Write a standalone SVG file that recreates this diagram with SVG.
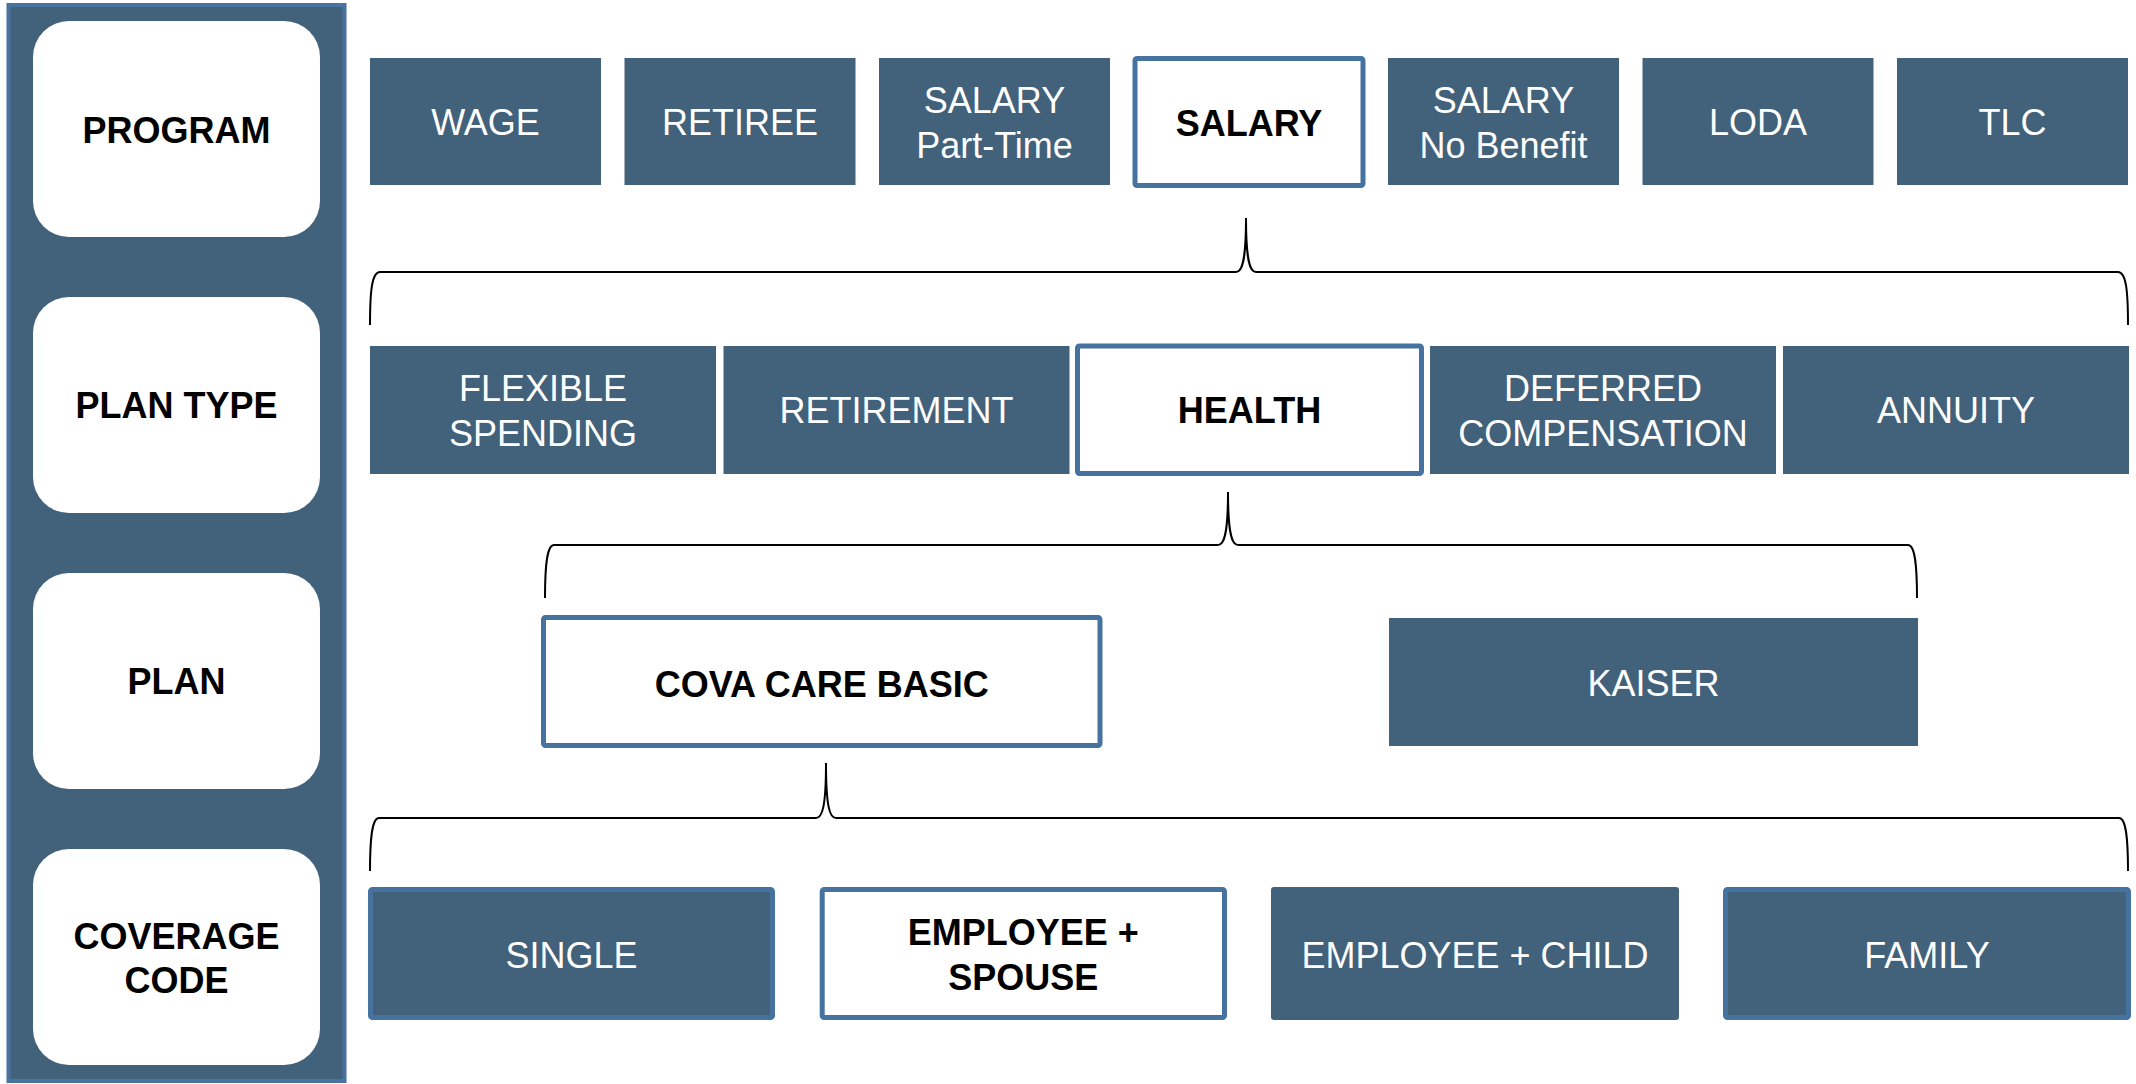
<svg xmlns="http://www.w3.org/2000/svg" width="2136" height="1084" viewBox="0 0 2136 1084">
<style>
.bg{fill:#ffffff}
.panel{fill:#42617a;stroke:#4872a0;stroke-width:4}
.lbl{fill:#ffffff}
.box{fill:#42617a}
.sel{fill:#ffffff;stroke:#4672a0;stroke-width:5}
.dsel{fill:#42617a;stroke:#4672a0;stroke-width:5}
.t{font-family:"Liberation Sans",Arial,sans-serif;font-size:36px;text-anchor:middle}
.w{fill:#ffffff}
.b{fill:#000000;font-weight:bold}
.brace{fill:none;stroke:#000000;stroke-width:2}
</style>
<rect class="bg" x="0" y="0" width="2136" height="1084"/>
<g id="sidebar">
<rect class="panel" x="8.5" y="5" width="336" height="1076"/>
<g id="lbl-program"><rect class="lbl" x="33" y="21" width="287" height="216" rx="36"/><text class="t b" x="176.5" y="143">PROGRAM</text></g>
<g id="lbl-plantype"><rect class="lbl" x="33" y="297" width="287" height="216" rx="36"/><text class="t b" x="176.5" y="418">PLAN TYPE</text></g>
<g id="lbl-plan"><rect class="lbl" x="33" y="573" width="287" height="216" rx="36"/><text class="t b" x="176.5" y="694">PLAN</text></g>
<g id="lbl-coverage"><rect class="lbl" x="33" y="849" width="287" height="216" rx="36"/><text class="t b" x="176.5" y="949">COVERAGE</text><text class="t b" x="176.5" y="993">CODE</text></g>
</g>
<g id="connectors">
<path class="brace" d="M370,325 C370,290 372,272 380,272 L1236,272 C1242,272 1246,262 1246,218 C1246,262 1250,272 1256,272 L2118,272 C2126,272 2128,290 2128,325"/>
<path class="brace" d="M545,598 C545,565 547,545 554,545 L1218,545 C1224,545 1228,535 1228,492 C1228,535 1232,545 1238,545 L1908,545 C1915,545 1917,565 1917,598"/>
<path class="brace" d="M370,871 C370,838 372,818 379,818 L816,818 C822,818 826,808 826,763 C826,808 830,818 836,818 L2119,818 C2126,818 2128,838 2128,871"/>
</g>
<g id="p-wage"><rect class="box" x="370" y="58" width="231" height="127"/><text class="t w" x="485.5" y="135">WAGE</text></g>
<g id="p-retiree"><rect class="box" x="624.5" y="58" width="231" height="127"/><text class="t w" x="740" y="135">RETIREE</text></g>
<g id="p-salary-pt"><rect class="box" x="879" y="58" width="231" height="127"/><text class="t w" x="994.5" y="113">SALARY</text><text class="t w" x="994.5" y="158">Part-Time</text></g>
<g id="p-salary"><rect class="sel" x="1135" y="58.5" width="228" height="127" rx="2"/><text class="t b" x="1249" y="136">SALARY</text></g>
<g id="p-salary-nb"><rect class="box" x="1388" y="58" width="231" height="127"/><text class="t w" x="1503.5" y="113">SALARY</text><text class="t w" x="1503.5" y="158">No Benefit</text></g>
<g id="p-loda"><rect class="box" x="1642.5" y="58" width="231" height="127"/><text class="t w" x="1758" y="135">LODA</text></g>
<g id="p-tlc"><rect class="box" x="1897" y="58" width="231" height="127"/><text class="t w" x="2012.5" y="135">TLC</text></g>
<g id="t-flex"><rect class="box" x="370" y="346" width="346" height="128"/><text class="t w" x="543" y="401">FLEXIBLE</text><text class="t w" x="543" y="446">SPENDING</text></g>
<g id="t-retirement"><rect class="box" x="723.5" y="346" width="346" height="128"/><text class="t w" x="896.5" y="423">RETIREMENT</text></g>
<g id="t-health"><rect class="sel" x="1077.5" y="346" width="344" height="127.5" rx="2"/><text class="t b" x="1249.5" y="423">HEALTH</text></g>
<g id="t-deferred"><rect class="box" x="1430" y="346" width="346" height="128"/><text class="t w" x="1603" y="401">DEFERRED</text><text class="t w" x="1603" y="446">COMPENSATION</text></g>
<g id="t-annuity"><rect class="box" x="1783" y="346" width="346" height="128"/><text class="t w" x="1956" y="423">ANNUITY</text></g>
<g id="pl-cova"><rect class="sel" x="543.5" y="617.5" width="556.5" height="128" rx="2"/><text class="t b" x="821.8" y="697">COVA CARE BASIC</text></g>
<g id="pl-kaiser"><rect class="box" x="1389" y="618" width="529" height="128"/><text class="t w" x="1653.5" y="696">KAISER</text></g>
<g id="c-single"><rect class="dsel" x="370.5" y="889.5" width="402" height="128" rx="2"/><text class="t w" x="571.5" y="968">SINGLE</text></g>
<g id="c-spouse"><rect class="sel" x="822.2" y="889.5" width="402.3" height="128" rx="2"/><text class="t b" x="1023.3" y="945">EMPLOYEE +</text><text class="t b" x="1023.3" y="990">SPOUSE</text></g>
<g id="c-child"><rect class="box" x="1271" y="887" width="408" height="133" rx="3"/><text class="t w" x="1475" y="968">EMPLOYEE + CHILD</text></g>
<g id="c-family"><rect class="dsel" x="1725.5" y="889.5" width="403" height="128" rx="2"/><text class="t w" x="1927" y="968">FAMILY</text></g>
</svg>
